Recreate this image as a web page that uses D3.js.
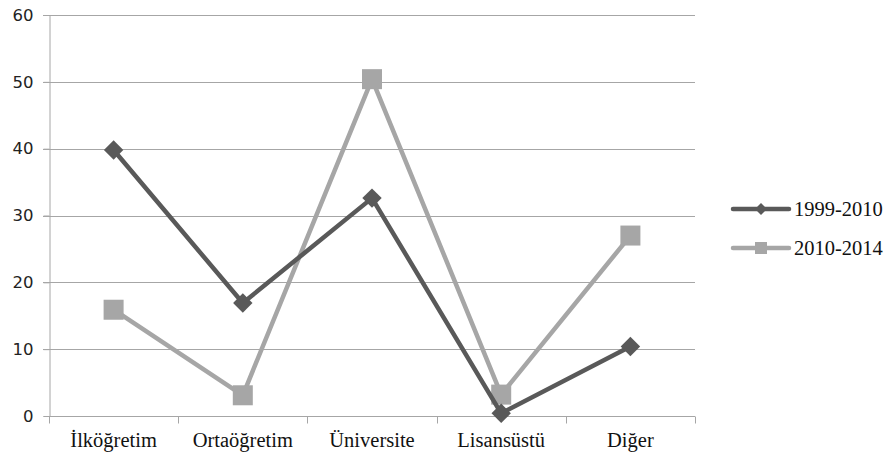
<!DOCTYPE html>
<html>
<head>
<meta charset="utf-8">
<script src="https://cdn.jsdelivr.net/npm/d3@7"></script>
<style>
  body { margin: 0; background: #fff; }
  svg { display: block; }
  .serif { font-family: 'Liberation Serif', 'Times New Roman', 'DejaVu Serif', serif; }
  .sans { font-family: 'DejaVu Sans', sans-serif; }
</style>
</head>
<body>
<svg id="chart" width="887" height="458"></svg>
<script>
const categories = ['İlköğretim', 'Ortaöğretim', 'Üniversite', 'Lisansüstü', 'Diğer'];
const series1999 = [39.8, 16.9, 32.6, 0.4, 10.4];
const series2010 = [15.9, 3.1, 50.4, 3.2, 27.0];
const yTicks = [0, 10, 20, 30, 40, 50, 60];
const seriesNames = ['1999-2010', '2010-2014'];

const svg = d3.select('#chart');
const margin = { top: 15, left: 49, right: 192, bottom: 42 };
const width = 887 - margin.left - margin.right;
const height = 458 - margin.top - margin.bottom;

const x = d3.scaleBand().domain(categories).range([0, width]);
const y = d3.scaleLinear().domain([0, 60]).range([height, 0]);

const canvas = svg.append('g')
  .attr('transform', `translate(${margin.left}, ${margin.top})`);

// Horizontal gridlines
canvas.append('g').selectAll('line')
  .data(yTicks.filter(d => d > 0))
  .join('line')
  .attr('x1', -6).attr('x2', width)
  .attr('y1', d => Math.round(y(d)) + 0.5).attr('y2', d => Math.round(y(d)) + 0.5)
  .attr('stroke', '#a6a6a6').attr('stroke-width', 1);

// Y axis
const yAxis = canvas.append('g')
  .attr('transform', 'translate(0.5, 0)')
  .call(d3.axisLeft(y).tickValues(yTicks).tickSize(6).tickPadding(10));
yAxis.select('.domain').attr('stroke', '#a6a6a6');
yAxis.selectAll('.tick line').attr('stroke', '#a6a6a6');
yAxis.selectAll('.tick text')
  .attr('class', 'sans')
  .attr('fill', '#222').attr('font-size', 16.5);

// X axis, ticks between categories
const xAxis = canvas.append('g').attr('transform', `translate(0, ${Math.round(height) + 0.5})`);
xAxis.append('line').attr('x1', 0).attr('x2', width).attr('stroke', '#a6a6a6');
xAxis.selectAll('line.tk')
  .data(d3.range(categories.length + 1))
  .join('line').attr('class', 'tk')
  .attr('x1', i => Math.round(i * x.step()) + 0.5).attr('x2', i => Math.round(i * x.step()) + 0.5)
  .attr('y1', 0).attr('y2', 7)
  .attr('stroke', '#a6a6a6');
xAxis.selectAll('text')
  .data(categories)
  .join('text')
  .attr('class', 'serif')
  .attr('x', d => x(d) + x.bandwidth() / 2)
  .attr('y', 30)
  .attr('text-anchor', 'middle')
  .attr('font-size', 20.5)
  .attr('fill', '#111')
  .text(d => d);

const cx = d => x(d) + x.bandwidth() / 2;
const line = d3.line().x((d, i) => cx(categories[i])).y(d => y(d));

const colors = ['#595959', '#a6a6a6'];

// 2010-2014 (light, squares)
canvas.append('path').datum(series2010)
  .attr('d', line).attr('fill', 'none')
  .attr('stroke', colors[1]).attr('stroke-width', 4.5).attr('stroke-linejoin', 'round');
canvas.append('g').selectAll('rect')
  .data(series2010).join('rect')
  .attr('x', (d, i) => cx(categories[i]) - 10)
  .attr('y', d => y(d) - 10)
  .attr('width', 20).attr('height', 20)
  .attr('fill', colors[1]);

// 1999-2010 (dark, diamonds)
canvas.append('path').datum(series1999)
  .attr('d', line).attr('fill', 'none')
  .attr('stroke', colors[0]).attr('stroke-width', 4.5).attr('stroke-linejoin', 'round');
const diamond = d3.symbol().type(d3.symbolDiamond2).size(240);
canvas.append('g').selectAll('path')
  .data(series1999).join('path')
  .attr('d', diamond)
  .attr('transform', (d, i) => `translate(${cx(categories[i])}, ${y(d)})`)
  .attr('fill', colors[0]);

// Legend
const legend = svg.append('g').attr('transform', 'translate(733, 209)');
const rows = legend.selectAll('g').data(seriesNames).join('g')
  .attr('transform', (d, i) => `translate(0, ${i * 39})`);
rows.append('line')
  .attr('x1', 0).attr('x2', 56)
  .attr('stroke', (d, i) => colors[i]).attr('stroke-width', 4.5).attr('stroke-linecap', 'round');
rows.filter((d, i) => i === 0).append('path')
  .attr('d', d3.symbol().type(d3.symbolDiamond2).size(90))
  .attr('transform', 'translate(28, 0)')
  .attr('fill', colors[0]);
rows.filter((d, i) => i === 1).append('rect')
  .attr('x', 22).attr('y', -6).attr('width', 12).attr('height', 12)
  .attr('fill', colors[1]);
rows.append('text')
  .attr('class', 'serif')
  .attr('x', 61).attr('y', 7)
  .attr('font-size', 20.5)
  .attr('fill', '#111')
  .text(d => d);
</script>
</body>
</html>
